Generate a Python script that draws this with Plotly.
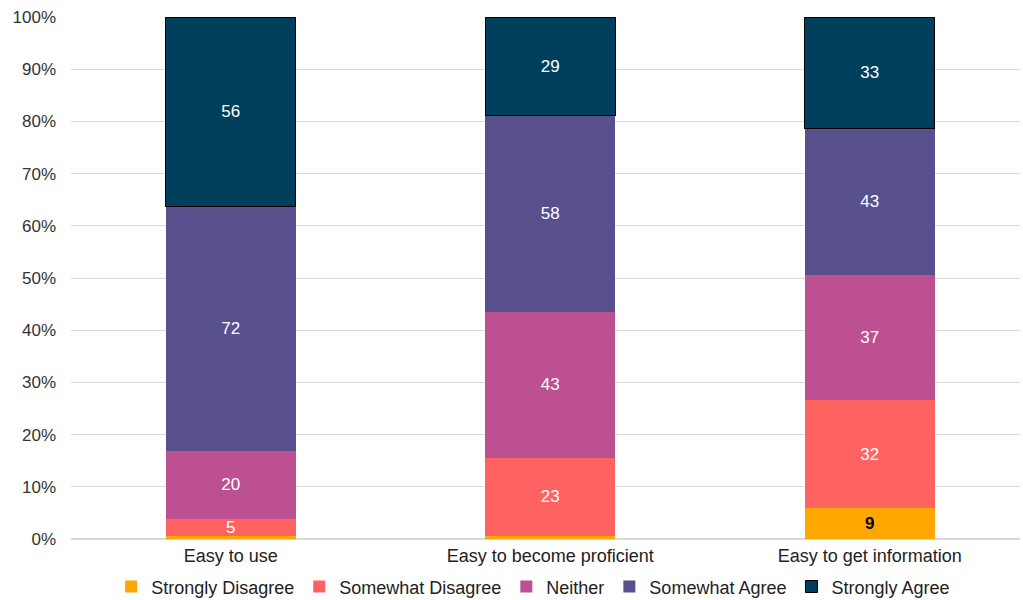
import plotly.graph_objects as go

categories = ["Easy to use", "Easy to become proficient", "Easy to get information"]
series_names = ["Strongly Disagree", "Somewhat Disagree", "Neither", "Somewhat Agree", "Strongly Agree"]
strongly_disagree = [1, 1, 9]
somewhat_disagree = [5, 23, 32]
neither = [20, 43, 37]
somewhat_agree = [72, 58, 43]
strongly_agree = [56, 29, 33]

values = [strongly_disagree, somewhat_disagree, neither, somewhat_agree, strongly_agree]
colors = ["#FFA600", "#FF6361", "#BC5090", "#58508D", "#003F5C"]

FONT = "Liberation Sans, Arial"

fig = go.Figure()
for name, vals, col in zip(series_names, values, colors):
    if name == "Strongly Disagree":
        texts = ["<b>%d</b>" % v if v > 2 else "" for v in vals]
        tcol = "black"
    else:
        texts = [str(v) for v in vals]
        tcol = "white"
    line = dict(color="black", width=1) if name == "Strongly Agree" else dict(width=0)
    fig.add_trace(go.Bar(
        x=categories, y=vals, name=name, marker=dict(color=col, line=line),
        text=texts, textposition="inside", insidetextanchor="middle", textangle=0,
        textfont=dict(color=tcol, size=17, family=FONT),
        width=0.407, hoverinfo="skip",
    ))

fig.update_layout(
    barmode="stack", barnorm="percent",
    width=1023, height=600,
    margin=dict(l=71, r=3, t=17, b=61, autoexpand=False),
    paper_bgcolor="white", plot_bgcolor="white",
    font=dict(family=FONT, size=17, color="#333333"),
    uniformtext=dict(mode="show", minsize=17),
    showlegend=True,
    legend=dict(orientation="h", x=0.487, xanchor="center",
                yref="container", y=0.022, yanchor="middle",
                font=dict(size=18, color="#222222"), traceorder="normal",
                itemwidth=30, tracegroupgap=0),
    xaxis=dict(range=[-0.5, 2.47], showgrid=False, showline=False, ticks="",
               ticklabelstandoff=4,
               tickfont=dict(size=18, color="#222222")),
    yaxis=dict(range=[0, 100], dtick=10, ticksuffix="%", showgrid=True,
               gridcolor="#D9D9D9", gridwidth=1, zeroline=True, zerolinecolor="#D9D9D9",
               showline=False, ticks="", ticklabelstandoff=14,
               tickfont=dict(size=17, color="#333333")),
)

fig.write_html("out.html")
